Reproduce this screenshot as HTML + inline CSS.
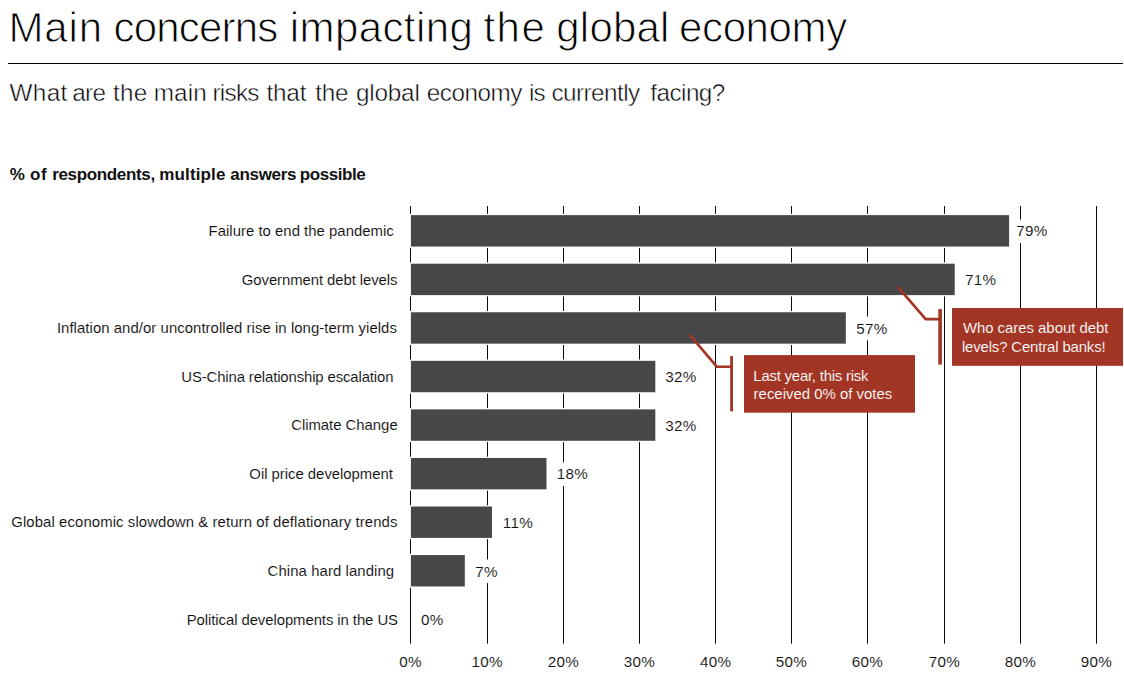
<!DOCTYPE html>
<html><head><meta charset="utf-8"><title>Main concerns impacting the global economy</title>
<style>
html,body{margin:0;padding:0;background:#fff;}
body{width:1124px;height:674px;position:relative;overflow:hidden;font-family:"Liberation Sans", sans-serif;}
.t{position:absolute;white-space:nowrap;line-height:1;margin:0;}
.grp{position:absolute;left:0;top:0;margin:0;padding:0;line-height:1;white-space:nowrap;}
.rule{position:absolute;left:8px;top:63px;width:1115px;height:1px;background:#000;}
svg{position:absolute;left:0;top:0;}
</style></head><body>
<div class="rule"></div>

<svg width="1124" height="674" viewBox="0 0 1124 674">
<!-- gridlines -->
<rect x="410" y="206.0" width="1" height="437.7" fill="#0a0a0a"/>
<rect x="487" y="206.0" width="1" height="437.7" fill="#0a0a0a"/>
<rect x="563" y="206.0" width="1" height="437.7" fill="#0a0a0a"/>
<rect x="639" y="206.0" width="1" height="437.7" fill="#0a0a0a"/>
<rect x="715" y="206.0" width="1" height="437.7" fill="#0a0a0a"/>
<rect x="791" y="206.0" width="1" height="437.7" fill="#0a0a0a"/>
<rect x="867" y="206.0" width="1" height="437.7" fill="#0a0a0a"/>
<rect x="944" y="206.0" width="1" height="437.7" fill="#0a0a0a"/>
<rect x="1020" y="206.0" width="1" height="437.7" fill="#0a0a0a"/>
<rect x="1096" y="206.0" width="1" height="437.7" fill="#0a0a0a"/>
<!-- bars (with white outline) -->
<rect x="409.80" y="213.85" width="600.60" height="34.00" fill="#fff"/>
<rect x="410.90" y="215.15" width="598.20" height="31.40" fill="#464749"/>
<rect x="409.80" y="262.41" width="546.20" height="34.00" fill="#fff"/>
<rect x="410.90" y="263.71" width="543.80" height="31.40" fill="#464749"/>
<rect x="409.80" y="310.97" width="437.31" height="34.00" fill="#fff"/>
<rect x="410.90" y="312.27" width="434.91" height="31.40" fill="#464749"/>
<rect x="409.80" y="359.53" width="246.81" height="34.00" fill="#fff"/>
<rect x="410.90" y="360.83" width="244.41" height="31.40" fill="#464749"/>
<rect x="409.80" y="408.09" width="246.81" height="34.00" fill="#fff"/>
<rect x="410.90" y="409.39" width="244.41" height="31.40" fill="#464749"/>
<rect x="409.80" y="456.65" width="137.99" height="34.00" fill="#fff"/>
<rect x="410.90" y="457.95" width="135.59" height="31.40" fill="#464749"/>
<rect x="409.80" y="505.21" width="83.51" height="34.00" fill="#fff"/>
<rect x="410.90" y="506.51" width="81.11" height="31.40" fill="#464749"/>
<rect x="409.80" y="553.77" width="56.31" height="34.00" fill="#fff"/>
<rect x="410.90" y="555.07" width="53.91" height="31.40" fill="#464749"/>
<!-- data label backgrounds -->
<rect x="1013.0" y="219.55" width="36.7" height="23.6" fill="#fff"/>
<rect x="961.6" y="268.11" width="37.3" height="23.6" fill="#fff"/>
<rect x="853.0" y="316.67" width="36.9" height="23.6" fill="#fff"/>
<rect x="661.5" y="365.23" width="37.9" height="23.6" fill="#fff"/>
<rect x="661.5" y="413.79" width="37.9" height="23.6" fill="#fff"/>
<rect x="553.6" y="462.35" width="37.4" height="23.6" fill="#fff"/>
<rect x="499.6" y="510.91" width="36.5" height="23.6" fill="#fff"/>
<rect x="471.7" y="559.47" width="28.8" height="23.6" fill="#fff"/>
<rect x="417.5" y="608.03" width="28.2" height="23.6" fill="#fff"/>
<!-- callouts -->
<rect x="952" y="308" width="171" height="57.8" fill="#a33525"/>
<rect x="938.3" y="309.1" width="3.6" height="55.5" fill="#a33525"/>
<polyline points="897.8,286.8 925.7,319.1 939,319.1" fill="none" stroke="#a33525" stroke-width="2.6"/>
<rect x="744" y="355.1" width="171" height="57.6" fill="#a33525"/>
<rect x="730.2" y="356.1" width="2.8" height="55.3" fill="#a33525"/>
<polyline points="689.5,334.6 716.8,366.7 731,366.7" fill="none" stroke="#a33525" stroke-width="2.6"/>
</svg>
<h1 class="grp" style="font-size:42px;color:#000;font-weight:normal;-webkit-text-stroke:0.95px #fff;">
<span class="t" style="left:8.50px;top:7px;letter-spacing:0.850px;">Main</span> <span class="t" style="left:113.55px;top:7px;letter-spacing:-0.821px;">concerns</span> <span class="t" style="left:289.75px;top:7px;letter-spacing:0.406px;">impacting</span> <span class="t" style="left:483.45px;top:7px;letter-spacing:1.470px;">the</span> <span class="t" style="left:556.25px;top:7px;letter-spacing:0.220px;">global</span> <span class="t" style="left:679.05px;top:7px;letter-spacing:-0.383px;">economy</span>
</h1>
<h2 class="grp" style="font-size:24.3px;color:#000;font-weight:normal;-webkit-text-stroke:0.5px #fff;">
<span class="t" style="left:9.45px;top:81px;letter-spacing:0.383px;">What</span> <span class="t" style="left:72.28px;top:81px;letter-spacing:-0.729px;">are</span> <span class="t" style="left:113.05px;top:81px;letter-spacing:0.200px;">the</span> <span class="t" style="left:153.65px;top:81px;letter-spacing:0.183px;">main</span> <span class="t" style="left:212.46px;top:81px;letter-spacing:-0.729px;">risks</span> <span class="t" style="left:266.45px;top:81px;letter-spacing:-0.167px;">that</span> <span class="t" style="left:315.25px;top:81px;letter-spacing:-0.200px;">the</span> <span class="t" style="left:355.90px;top:81px;letter-spacing:-0.190px;">global</span> <span class="t" style="left:426.70px;top:81px;letter-spacing:-0.483px;">economy</span> <span class="t" style="left:528.91px;top:81px;letter-spacing:-0.729px;">is</span> <span class="t" style="left:551.40px;top:81px;letter-spacing:-0.537px;">currently</span> <span class="t" style="left:650.25px;top:81px;letter-spacing:-0.542px;">facing?</span>
</h2>
<h3 class="grp" style="font-size:17px;color:#111;font-weight:bold;">
<span class="t" style="left:9.80px;top:166px;">%</span> <span class="t" style="left:29.93px;top:166px;letter-spacing:0.595px;">of</span> <span class="t" style="left:52.15px;top:166px;letter-spacing:-0.341px;">respondents,</span> <span class="t" style="left:159.35px;top:166px;letter-spacing:0.121px;">multiple</span> <span class="t" style="left:230.30px;top:166px;letter-spacing:-0.308px;">answers</span> <span class="t" style="left:299.75px;top:166px;letter-spacing:-0.443px;">possible</span>
</h3>
<div class="t" style="left:208.55px;top:224px;font-size:14.9px;color:#0c0c0c;-webkit-text-stroke:0.1px #fff;letter-spacing:0.025px;">Failure to end the pandemic</div>
<div class="t" style="left:241.85px;top:273px;font-size:14.9px;color:#0c0c0c;-webkit-text-stroke:0.1px #fff;letter-spacing:-0.081px;">Government debt levels</div>
<div class="t" style="left:56.90px;top:321px;font-size:14.9px;color:#0c0c0c;-webkit-text-stroke:0.1px #fff;letter-spacing:0.059px;">Inflation and/or uncontrolled rise in long-term yields</div>
<div class="t" style="left:181.25px;top:370px;font-size:14.9px;color:#0c0c0c;-webkit-text-stroke:0.1px #fff;letter-spacing:-0.124px;">US-China relationship escalation</div>
<div class="t" style="left:291.15px;top:418px;font-size:14.9px;color:#0c0c0c;-webkit-text-stroke:0.1px #fff;letter-spacing:-0.019px;">Climate Change</div>
<div class="t" style="left:249.35px;top:467px;font-size:14.9px;color:#0c0c0c;-webkit-text-stroke:0.1px #fff;letter-spacing:-0.023px;">Oil price development</div>
<div class="t" style="left:11.25px;top:515px;font-size:14.9px;color:#0c0c0c;-webkit-text-stroke:0.1px #fff;letter-spacing:0.098px;">Global economic slowdown &amp; return of deflationary trends</div>
<div class="t" style="left:267.55px;top:564px;font-size:14.9px;color:#0c0c0c;-webkit-text-stroke:0.1px #fff;letter-spacing:0.091px;">China hard landing</div>
<div class="t" style="left:186.75px;top:613px;font-size:14.9px;color:#0c0c0c;-webkit-text-stroke:0.1px #fff;letter-spacing:-0.074px;">Political developments in the US</div>
<div class="t" style="left:1016.25px;top:223px;font-size:15.2px;color:#0c0c0c;-webkit-text-stroke:0.1px #fff;letter-spacing:0.300px;">79%</div>
<div class="t" style="left:964.97px;top:272px;font-size:15.2px;color:#0c0c0c;-webkit-text-stroke:0.1px #fff;letter-spacing:0.300px;">71%</div>
<div class="t" style="left:856.25px;top:321px;font-size:15.2px;color:#0c0c0c;-webkit-text-stroke:0.1px #fff;letter-spacing:0.300px;">57%</div>
<div class="t" style="left:665.17px;top:369px;font-size:15.2px;color:#0c0c0c;-webkit-text-stroke:0.1px #fff;letter-spacing:0.300px;">32%</div>
<div class="t" style="left:665.17px;top:418px;font-size:15.2px;color:#0c0c0c;-webkit-text-stroke:0.1px #fff;letter-spacing:0.300px;">32%</div>
<div class="t" style="left:556.77px;top:466px;font-size:15.2px;color:#0c0c0c;-webkit-text-stroke:0.1px #fff;letter-spacing:0.300px;">18%</div>
<div class="t" style="left:502.82px;top:515px;font-size:15.2px;color:#0c0c0c;-webkit-text-stroke:0.1px #fff;letter-spacing:0.300px;">11%</div>
<div class="t" style="left:475.21px;top:564px;font-size:15.2px;color:#0c0c0c;-webkit-text-stroke:0.1px #fff;letter-spacing:0.300px;">7%</div>
<div class="t" style="left:421.00px;top:612px;font-size:15.2px;color:#0c0c0c;-webkit-text-stroke:0.1px #fff;letter-spacing:0.300px;">0%</div>
<div class="t" style="left:399.15px;top:654px;font-size:15.2px;color:#0c0c0c;-webkit-text-stroke:0.1px #fff;letter-spacing:0.300px;">0%</div>
<div class="t" style="left:471.50px;top:654px;font-size:15.2px;color:#0c0c0c;-webkit-text-stroke:0.1px #fff;letter-spacing:0.300px;">10%</div>
<div class="t" style="left:547.75px;top:654px;font-size:15.2px;color:#0c0c0c;-webkit-text-stroke:0.1px #fff;letter-spacing:0.300px;">20%</div>
<div class="t" style="left:623.75px;top:654px;font-size:15.2px;color:#0c0c0c;-webkit-text-stroke:0.1px #fff;letter-spacing:0.300px;">30%</div>
<div class="t" style="left:700.00px;top:654px;font-size:15.2px;color:#0c0c0c;-webkit-text-stroke:0.1px #fff;letter-spacing:0.300px;">40%</div>
<div class="t" style="left:775.75px;top:654px;font-size:15.2px;color:#0c0c0c;-webkit-text-stroke:0.1px #fff;letter-spacing:0.300px;">50%</div>
<div class="t" style="left:851.75px;top:654px;font-size:15.2px;color:#0c0c0c;-webkit-text-stroke:0.1px #fff;letter-spacing:0.300px;">60%</div>
<div class="t" style="left:928.75px;top:654px;font-size:15.2px;color:#0c0c0c;-webkit-text-stroke:0.1px #fff;letter-spacing:0.300px;">70%</div>
<div class="t" style="left:1004.75px;top:654px;font-size:15.2px;color:#0c0c0c;-webkit-text-stroke:0.1px #fff;letter-spacing:0.300px;">80%</div>
<div class="t" style="left:1080.75px;top:654px;font-size:15.2px;color:#0c0c0c;-webkit-text-stroke:0.1px #fff;letter-spacing:0.300px;">90%</div>
<div class="t" style="left:962.90px;top:321px;font-size:14.9px;color:#fff;-webkit-text-stroke:0.12px #a33525;letter-spacing:-0.011px;">Who cares about debt</div>
<div class="t" style="left:961.90px;top:340px;font-size:14.9px;color:#fff;-webkit-text-stroke:0.12px #a33525;letter-spacing:-0.131px;">levels? Central banks!</div>
<div class="t" style="left:753.35px;top:369px;font-size:14.9px;color:#fff;-webkit-text-stroke:0.12px #a33525;letter-spacing:-0.211px;">Last year, this risk</div>
<div class="t" style="left:753.60px;top:387px;font-size:14.9px;color:#fff;-webkit-text-stroke:0.12px #a33525;letter-spacing:0.024px;">received 0% of votes</div>
</body></html>
